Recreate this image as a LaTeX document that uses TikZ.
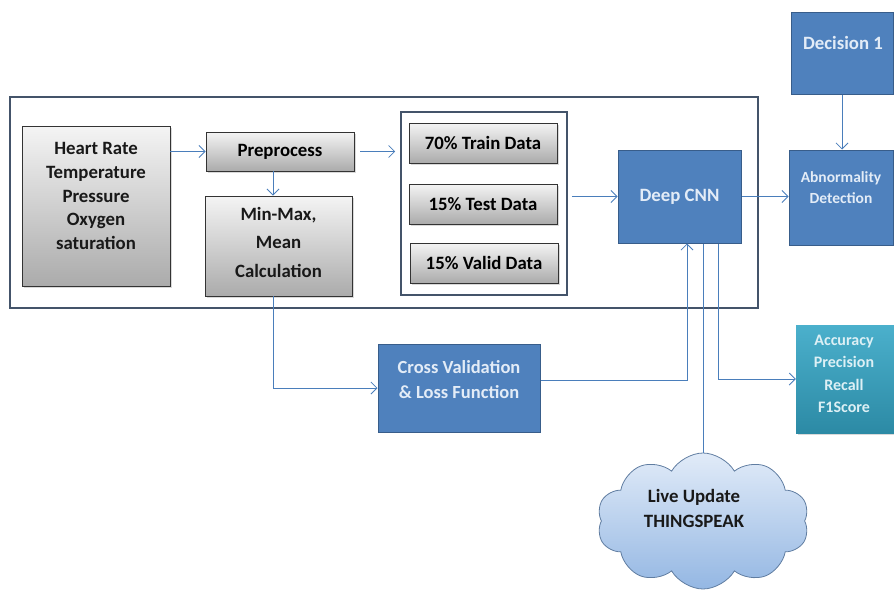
\documentclass[tikz,border=0pt]{standalone}
\usepackage{fontspec}
\setmainfont{Carlito}
\usetikzlibrary{arrows.meta,shapes.symbols,shadows}
\definecolor{frameC}{HTML}{44546A}
\definecolor{lineC}{HTML}{4A7EBB}
\definecolor{blueF}{HTML}{4F81BD}
\definecolor{blueD}{HTML}{385D8A}
\definecolor{blueT}{HTML}{E3ECF7}
\definecolor{grayT}{HTML}{F4F4F4}
\definecolor{grayB}{HTML}{ABABAB}
\definecolor{tealT}{HTML}{4BB0CC}
\definecolor{tealB}{HTML}{2C8AA5}
\definecolor{tealT2}{HTML}{DDF0F5}
\definecolor{cloudT}{HTML}{E1EBF8}
\definecolor{cloudB}{HTML}{94B7E3}
\begin{document}
\begin{tikzpicture}[x=1pt,y=-1pt,
  graybox/.style={draw=black!80, line width=0.9pt, top color=grayT, bottom color=grayB, inner sep=0pt,
    drop shadow={shadow xshift=2pt, shadow yshift=-2pt, opacity=0.3}},
  bluebox/.style={draw=blueD, line width=1pt, fill=blueF, inner sep=0pt, text=blueT, align=center},
  tealbox/.style={draw=none, top color=tealT, bottom color=tealB, inner sep=0pt,
    drop shadow={shadow xshift=2pt, shadow yshift=-2pt, opacity=0.3}},
  framebox/.style={draw=frameC, line width=1.6pt, inner sep=0pt},
  txt/.style={align=center, inner sep=0pt, text=black!90},
  big/.style={font=\fontsize{18.8}{23.8}\selectfont\bfseries},
  conn/.style={draw=lineC, line width=0.8pt, -{Straight Barb[length=6pt,width=12pt]}},
  plain/.style={draw=lineC, line width=0.8pt}
]
\useasboundingbox (0,0) rectangle (894,592);

% outer frame and split frame
\node[framebox, minimum width=748pt, minimum height=211pt] (frame) at (384,202.5) {};
\node[framebox, minimum width=166pt, minimum height=183pt] (split) at (484,203.5) {};

% gray boxes
\node[graybox, minimum width=148pt, minimum height=160pt] (sens) at (96,206) {};
\node[txt, big] (senst) at (96,196) {Heart Rate\\Temperature\\Pressure\\Oxygen\\saturation};
\node[graybox, minimum width=148pt, minimum height=39pt, big] (pre) at (280,151.5) {Preprocess};
\node[graybox, minimum width=147pt, minimum height=100pt] (mm) at (278.5,246) {};
\node[txt, font=\fontsize{18.8}{28.5}\selectfont\bfseries] (mmt) at (278.5,242) {Min-Max,\\Mean\\Calculation};
\node[graybox, minimum width=148pt, minimum height=40pt, big] (train) at (483,143) {70\% Train Data};
\node[graybox, minimum width=148pt, minimum height=40pt, big] (test) at (483,204) {15\% Test Data};
\node[graybox, minimum width=148pt, minimum height=40pt, big] (valid) at (484,263) {15\% Valid Data};

% blue boxes
\node[bluebox, minimum width=123pt, minimum height=93pt, big] (cnn) at (679.5,196.5) {Deep CNN};
\node[bluebox, minimum width=104pt, minimum height=95pt] (abn) at (841,197.5) {};
\node[txt, font=\fontsize{15.5}{21}\selectfont\bfseries, text=blueT] (abnt) at (841,188) {Abnormality\\Detection};
\node[bluebox, minimum width=102pt, minimum height=82pt] (dec) at (842,53) {};
\node[txt, big, text=blueT] (dect) at (843,43) {Decision 1};
\node[bluebox, minimum width=162pt, minimum height=88pt] (cross) at (459,388) {};
\node[txt, font=\fontsize{18.5}{25}\selectfont\bfseries, text=blueT] (crosst) at (459,380) {Cross Validation\\\& Loss Function};

% teal box
\node[tealbox, minimum width=98pt, minimum height=108pt] (acc) at (845,379) {};
\node[txt, font=\fontsize{16}{22.3}\selectfont\bfseries, text=tealT2] (acct) at (844,374) {Accuracy\\Precision\\Recall\\F1Score};

% cloud
\node[cloud, cloud puffs=10, cloud puff arc=120, aspect=1.55, draw=blueD!80, line width=0.8pt,
  top color=cloudT, bottom color=cloudB, minimum width=212pt, minimum height=136pt, inner sep=0pt] (cloud) at (703,521) {};
\node[txt, font=\fontsize{18.8}{25}\selectfont\bfseries] (cloudt) at (694,508) {Live Update\\THINGSPEAK};

% connectors
\coordinate (mx) at (273,0);
\coordinate (c1) at (687,0);
\coordinate (c3) at (718,0);
\draw[conn] (sens.east |- pre.west) -- (pre.west);
\draw[conn, shorten <=6pt, shorten >=5pt] (pre.east) -- (split.west |- pre.east);
\draw[conn] (pre.south -| mx) -- (mm.north -| mx);
\draw[conn] (mm.south -| mx) |- (cross.west);
\draw[conn, shorten <=4pt] (split.east |- cnn.west) -- (cnn.west);
\draw[conn] (cnn.east) -- (abn.west |- cnn.east);
\draw[conn] (dec.south) -- (dec.south |- abn.north);
\draw[conn] ([yshift=8pt]cross.east) -| (cnn.south -| c1);
\draw[plain] (cloud.north) -- (cloud.north |- cnn.south);
\draw[conn] (cnn.south -| c3) |- (acc.west);
\end{tikzpicture}
\end{document}
